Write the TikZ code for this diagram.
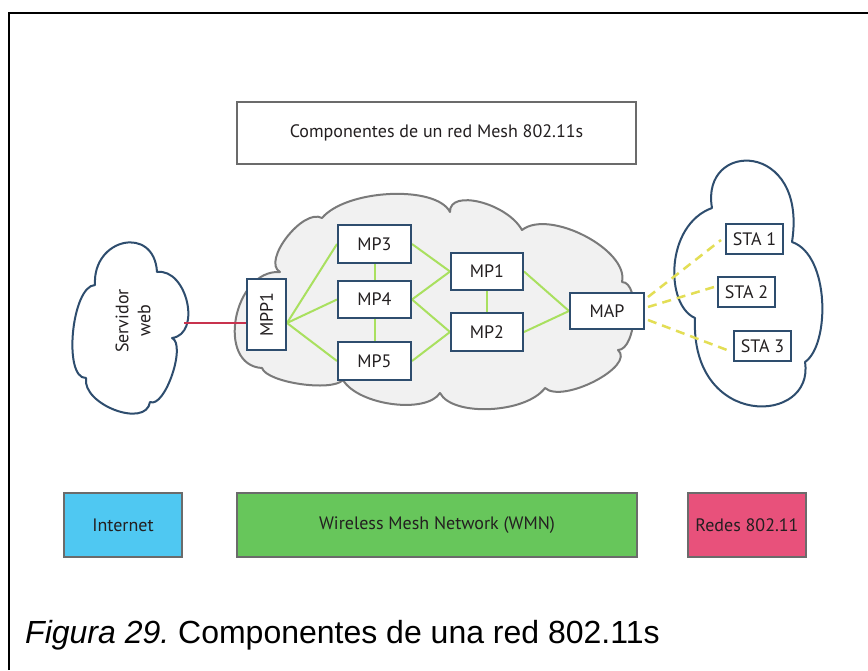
\documentclass[tikz,border=0pt]{standalone}
\usepackage{fontspec}
\setmainfont{Liberation Sans}
\newfontfamily\diagfont{PT Sans}
\usetikzlibrary{calc}
\definecolor{navy}{HTML}{2E4D6E}
\definecolor{meshgreen}{HTML}{A9E05F}
\definecolor{linkred}{HTML}{C8324E}
\definecolor{dashyellow}{HTML}{E3DE55}
\definecolor{cloudgrey}{HTML}{F1F1F1}
\definecolor{cloudedge}{HTML}{7A7A7A}
\definecolor{inetblue}{HTML}{4FC8F2}
\definecolor{wmngreen}{HTML}{67C65B}
\definecolor{redespink}{HTML}{E8517B}
\definecolor{boxedge}{HTML}{6B6B6B}
\definecolor{txt}{HTML}{231F20}
\pgfdeclarelayer{back}
\pgfsetlayers{back,main}
\frenchspacing
\begin{document}
\begin{tikzpicture}[x=1pt,y=-1pt,
  every node/.style={text=txt, font=\diagfont\fontsize{18}{21}\selectfont},
  mpbox/.style={draw=navy, line width=2, fill=white, inner sep=0},
  meshlink/.style={draw=meshgreen, line width=2},
  stalink/.style={draw=dashyellow, line width=2.5, dash pattern=on 9pt off 6pt},
  bandbox/.style={draw=boxedge, line width=1.5, inner sep=0, minimum height=64},
  cloudline/.style={line width=2, line join=round}
]
\useasboundingbox (0,0) rectangle (868,670);

% title
\node[draw=boxedge, line width=2, minimum width=399, minimum height=62, inner sep=0] (title) at (436.5,133) {Componentes de un red Mesh 802.11s};

% mesh nodes
\node[mpbox, minimum width=39, minimum height=71] (MPP1) at (266.5,314.5) {\rotatebox{90}{MPP1}};
\node[mpbox, minimum width=73, minimum height=38] (MP3) at (374.5,244) {MP3};
\node[mpbox, minimum width=73, minimum height=37] (MP4) at (374.5,299.5) {MP4};
\node[mpbox, minimum width=73, minimum height=38] (MP5) at (374.5,361) {MP5};
\node[mpbox, minimum width=72, minimum height=37] (MP1) at (487,271.5) {MP1};
\node[mpbox, minimum width=72, minimum height=38] (MP2) at (487,332) {MP2};
\node[mpbox, minimum width=74, minimum height=36] (MAP) at (607,311) {MAP};
\node[mpbox, minimum width=57, minimum height=30] (STA1) at (754.5,239) {STA 1};
\node[mpbox, minimum width=57, minimum height=30] (STA2) at (746.5,292) {STA 2};
\node[mpbox, minimum width=57, minimum height=30] (STA3) at (762.5,346) {STA 3};

\node[rotate=90, align=center, font=\diagfont\fontsize{18}{22}\selectfont] (web) at (133,321) {Servidor\\web};

\begin{pgfonlayer}{back}
\fill[white] (0,0) rectangle (868,670);
\draw[line width=2] (8.5,670) -- (8.5,12.5) -- (868,12.5);
% big mesh cloud
\draw[cloudline, draw=cloudedge, fill=cloudgrey]
  (262,368) .. controls (215.3,365.3) and (233.3,269.3) .. (280,272)
  .. controls (261.3,261.3) and (303.3,207.3) .. (322,218)
  .. controls (346.5,189.1) and (436.1,184.9) .. (450,212)
  .. controls (449.2,188.5) and (506.8,202.9) .. (522,230)
  .. controls (549.3,208.5) and (629.3,250.1) .. (622,282)
  .. controls (640.7,282) and (636.7,350) .. (618,350)
  .. controls (636,366) and (563,404) .. (545,388)
  .. controls (526,413.5) and (452.5,417) .. (440,393)
  .. controls (426.1,414.3) and (358.3,405.3) .. (343,380)
  .. controls (331.6,392.1) and (266.8,382.5) .. (262,368) -- cycle;
% left cloud
\draw[cloudline, draw=navy, fill=white]
  (86,378) .. controls (62.7,378.7) and (71.7,285.7) .. (95,285)
  .. controls (92.3,237.7) and (154.3,224.7) .. (157,272)
  .. controls (187,268) and (202,334) .. (172,338)
  .. controls (186.7,344.7) and (164.7,408.7) .. (150,402)
  .. controls (146,428.7) and (82,404.7) .. (86,378) -- cycle;
% right cloud
\draw[cloudline, draw=navy, fill=white]
  (695,318) .. controls (665,305) and (665,225) .. (712,208)
  .. controls (700,140) and (808,140) .. (792,242)
  .. controls (830,255) and (830,345) .. (805,362)
  .. controls (815,425) and (690,430) .. (695,318) -- cycle;

\coordinate (webR) at (184,323);
\draw[draw=linkred, line width=2] (webR) -- (webR -| MPP1.west);
\coordinate (mppOut) at ($(MPP1.east)+(0,8.5)$);
\draw[meshlink] (mppOut) -- (MP3.west);
\draw[meshlink] (mppOut) -- (MP4.west);
\draw[meshlink] (mppOut) -- (MP5.west);
\draw[meshlink] (MP3.south) -- (MP4.north);
\draw[meshlink] (MP4.south) -- (MP5.north);
\draw[meshlink] (MP1.south) -- (MP2.north);
\draw[meshlink] (MP3.east) -- (MP1.west);
\draw[meshlink] (MP4.east) -- (MP1.west);
\draw[meshlink] (MP4.east) -- (MP2.west);
\draw[meshlink] (MP5.east) -- (MP2.west);
\draw[meshlink] (MP1.east) -- (MAP.west);
\draw[meshlink] (MP2.east) -- (MAP.west);
\draw[stalink] ($(MAP.east)+(3,-14)$) -- ($(STA1.west)+(-4,1)$);
\draw[stalink] ($(MAP.east)+(3,-4)$) -- ($(STA2.west)+(-3,-5)$);
\draw[stalink] ($(MAP.east)+(3,9)$) -- ($(STA3.west)+(-6,4)$);
\end{pgfonlayer}

% legend bands
\node[bandbox, fill=inetblue, minimum width=118] (inet) at (123,525) {Internet};
\node[bandbox, fill=wmngreen, minimum width=400] (wmn) at (437,525) {Wireless Mesh Network (WMN)};
\node[bandbox, fill=redespink, minimum width=118] (redes) at (747,525) {Redes 802.11};

% caption
\node[anchor=base west, inner sep=0, text=black, font=\normalfont\fontsize{32}{38}\selectfont] (cap) at (25,643) {\textit{Figura 29.} Componentes de una red 802.11s};
\end{tikzpicture}
\end{document}
